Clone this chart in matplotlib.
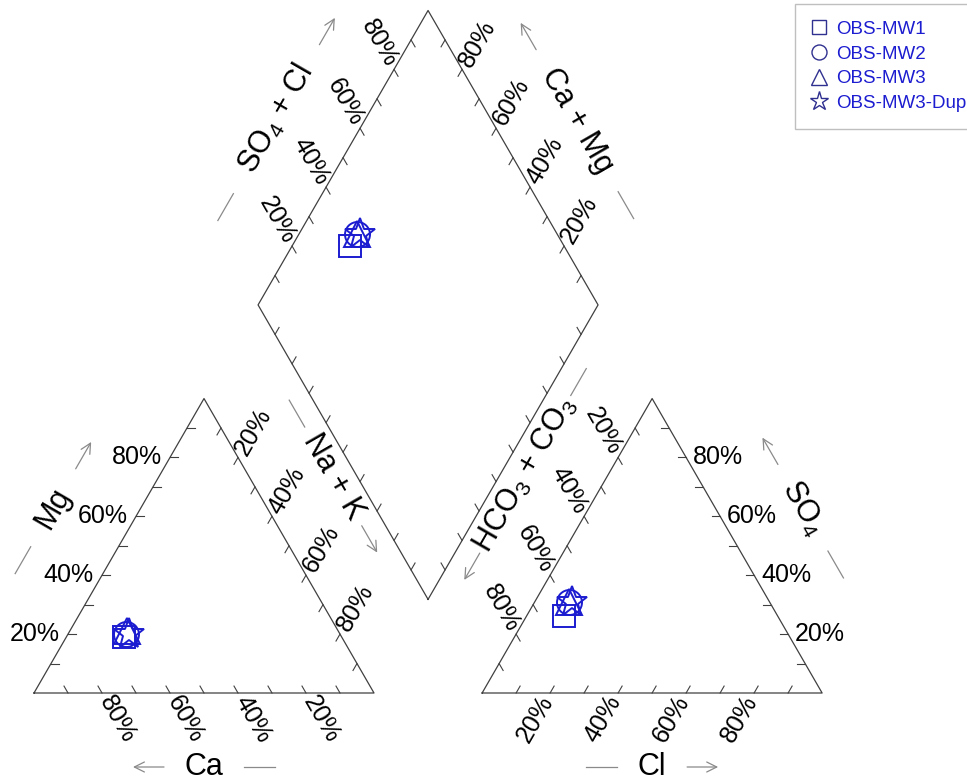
import numpy as np
import matplotlib
matplotlib.use('Agg')
import matplotlib.pyplot as plt

plt.rcParams['font.family'] = ['Liberation Sans', 'DejaVu Sans']
plt.rcParams['mathtext.fontset'] = 'custom'
plt.rcParams['mathtext.rm'] = 'Liberation Sans'
plt.rcParams['mathtext.it'] = 'Liberation Sans'

# sample composition, % meq
samples = ['OBS-MW1', 'OBS-MW2', 'OBS-MW3', 'OBS-MW3-Dup']
markers = ['s', 'o', '^', '*']
ca = [64, 63, 62, 62]
mg = [19, 20, 21, 20]
nak = [17, 17, 17, 18]
hco3 = [63, 59, 59, 58]
cl = [11, 10, 10, 11]
so4 = [26, 31, 31, 31]
tick_pct = [20, 40, 60, 80]

H = np.sqrt(3) / 2
GAP = 0.318
OX = 1 + GAP
BX, BY = 1 + GAP / 2, GAP * H
PX = 340.0  # pixels per unit side

LINE = '#404040'
ARROW = '#8a8a8a'
BLUE = '#1c1cd0'
TICK_FS = 18
TITLE_FS = 22


def cat_xy(c, m, n):
    tot = c + m + n
    return n / tot + m / tot / 2, m / tot * H


def an_xy(h, s, c):
    tot = h + s + c
    return OX + c / tot + s / tot / 2, s / tot * H


def dia_xy(camg, s):
    return BX + 0.5 * (s - camg), BY + H * (s + camg)


def px(d):
    return d / PX


fig = plt.figure(figsize=(9.67, 7.82), dpi=100)
ax = fig.add_axes([0, 0, 1, 1])
ax.set_xlim(-34 / PX, (967 - 34) / PX)
ax.set_ylim((693 - 782) / PX, 693 / PX)
ax.set_aspect('equal')
ax.axis('off')


def outline(pts):
    pts = np.array(pts + [pts[0]])
    ax.plot(pts[:, 0], pts[:, 1], color=LINE, lw=0.9)


def axis_edge(pos, inward, label_dir=None, rot=0, ha='left', gap=5):
    # pos: function of fraction -> point on edge
    inward = np.array(inward) / np.hypot(*inward)
    for f in np.arange(0.1, 0.91, 0.1):
        p = np.array(pos(f))
        q = p + inward * px(8)
        ax.plot([p[0], q[0]], [p[1], q[1]], color=LINE, lw=0.8)
    if label_dir is None:
        return
    label_dir = np.array(label_dir) / np.hypot(*label_dir)
    for t in tick_pct:
        p = np.array(pos(t / 100)) + label_dir * px(gap)
        ax.text(p[0], p[1], f'{t}%', fontsize=TICK_FS, rotation=rot,
                rotation_mode='anchor', ha=ha, va='center')


def title(text, center, direction, rot, gap, length=31):
    c = np.array(center)
    d = np.array(direction) / np.hypot(*direction)
    a0, a1 = c - d * px(gap + length), c - d * px(gap)
    ax.plot([a0[0], a1[0]], [a0[1], a1[1]], color=ARROW, lw=0.9)
    b0, b1 = c + d * px(gap), c + d * px(gap + length)
    ax.annotate('', xy=b1, xytext=b0,
                arrowprops=dict(arrowstyle='->', color=ARROW, lw=0.9,
                                mutation_scale=18, shrinkA=0, shrinkB=0))
    ax.text(c[0], c[1], text, fontsize=TITLE_FS, rotation=rot,
            ha='center', va='center', rotation_mode='anchor')


# cation triangle
outline([(0, 0), (1, 0), (0.5, H)])
axis_edge(lambda f: (1 - f, 0), (-0.5, H), (0.5, -H), -60, 'left')
axis_edge(lambda f: (f / 2, f * H), (1, 0), (-1, 0), 0, 'right', 8)
axis_edge(lambda f: (0.5 + f / 2, (1 - f) * H), (-0.5, -H), (0.5, H), 60, 'left')

# anion triangle
outline([(OX, 0), (OX + 1, 0), (OX + 0.5, H)])
axis_edge(lambda f: (OX + f, 0), (0.5, H), (-0.5, -H), 60, 'right')
axis_edge(lambda f: (OX + (1 - f) / 2, (1 - f) * H), (0.5, -H), (-0.5, H), -60, 'right')
axis_edge(lambda f: (OX + 1 - f / 2, f * H), (-1, 0), (1, 0), 0, 'left', 7)

# diamond
outline([dia_xy(0, 0), dia_xy(1, 0), dia_xy(1, 1), dia_xy(0, 1)])
axis_edge(lambda f: dia_xy(1, f), (0.5, -H), (-0.5, H), -60, 'right')
axis_edge(lambda f: dia_xy(f, 1), (-0.5, -H), (0.5, H), 60, 'left')
axis_edge(lambda f: dia_xy(f, 0), (0.5, H))
axis_edge(lambda f: dia_xy(0, f), (-0.5, H))

# axis titles
nl = np.array((-H, 0.5))
nr = np.array((H, 0.5))
title('Ca', (0.5, -px(74)), (-1, 0), 0, 40)
title('Mg', np.array((0.25, H / 2)) + nl * px(76), (0.5, H), 60, 45)
title('Na + K', np.array((0.75, H / 2)) + nr * px(73) + np.array((-0.5, H)) * px(38),
      (0.5, -H), -60, 57)
title('Cl', (OX + 0.5, -px(74)), (1, 0), 0, 35)
title(r'SO$_4$', np.array((OX + 0.75, H / 2)) + nr * px(76), (-0.5, H), -60, 50)
title(r'HCO$_3$ + CO$_3$', np.array((OX + 0.25, H / 2)) + nl * px(72) + np.array((0.5, H)) * px(41),
      (-0.5, -H), 60, 91)
title(r'SO$_4$ + Cl', np.array(dia_xy(1, 0.5)) + nl * px(77), (0.5, H), 60, 86)
title('Ca + Mg', np.array(dia_xy(0.5, 1)) + nr * px(74), (-0.5, H), -60, 82)

# samples
sizes = {'s': 16, 'o': 18, '^': 19, '*': 23}
for i, name in enumerate(samples):
    m = markers[i]
    kw = dict(marker=m, ms=sizes[m], mfc='none', mec=BLUE, mew=1.4, ls='none')
    x, y = cat_xy(ca[i], mg[i], nak[i])
    ax.plot(x, y, **kw)
    x, y = an_xy(hco3[i], so4[i], cl[i])
    ax.plot(x, y, **kw)
    camg = (ca[i] + mg[i]) / (ca[i] + mg[i] + nak[i])
    s = (so4[i] + cl[i]) / (so4[i] + cl[i] + hco3[i])
    x, y = dia_xy(camg, s)
    ax.plot(x, y, label=name, **kw)

leg = ax.legend(loc='upper left', bbox_to_anchor=(795 / 967, 1 - 4 / 782),
                bbox_transform=fig.transFigure, borderaxespad=0, fontsize=13.5,
                markerscale=0.6, labelcolor=BLUE, fancybox=False,
                handlelength=0.8, handletextpad=0.5, borderpad=0.9, labelspacing=0.4)
leg.get_frame().set_edgecolor('#b0b0b0')
for h in leg.legend_handles:
    h.set_markeredgecolor('#303090')
    h.set_markeredgewidth(1.0)

fig.savefig('out.png', dpi=100)
